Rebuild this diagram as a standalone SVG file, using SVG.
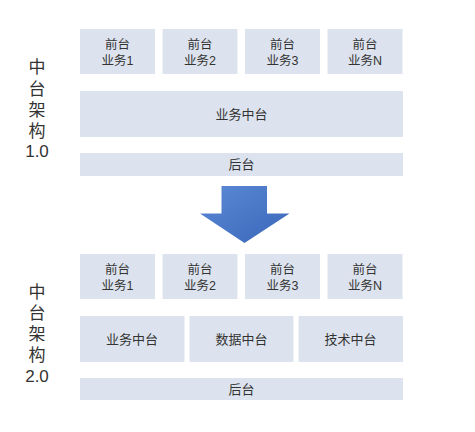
<svg xmlns="http://www.w3.org/2000/svg" width="475" height="432" viewBox="0 0 475 432">
<style>
.box{fill:#dde3ee;}
.t{font-family:"Liberation Sans","Noto Sans CJK SC",sans-serif;font-size:13px;fill:#333;text-anchor:middle;}
.s{font-size:12.5px;}
.side{font-family:"Liberation Sans","Noto Sans CJK SC",sans-serif;font-size:17px;fill:#333;text-anchor:middle;}
</style>
<defs>
<linearGradient id="ag" x1="0" y1="0" x2="1" y2="1">
<stop offset="0" stop-color="#5b8ad6"/>
<stop offset="1" stop-color="#3a66b8"/>
</linearGradient>
</defs>
<rect width="475" height="432" fill="#ffffff"/>

<g id="label-1">
<text class="side"><tspan x="37" y="73">中</tspan><tspan x="37" y="95">台</tspan><tspan x="37" y="116">架</tspan><tspan x="37" y="137">构</tspan><tspan x="37" y="157">1.0</tspan></text>
</g>

<g id="v1-front1"><rect class="box" x="80" y="29" width="75" height="45"/><text class="t s"><tspan x="117.5" y="49">前台</tspan><tspan x="117.5" y="65">业务1</tspan></text></g>
<g id="v1-front2"><rect class="box" x="162.5" y="29" width="75" height="45"/><text class="t s"><tspan x="200" y="49">前台</tspan><tspan x="200" y="65">业务2</tspan></text></g>
<g id="v1-front3"><rect class="box" x="245" y="29" width="75" height="45"/><text class="t s"><tspan x="282.5" y="49">前台</tspan><tspan x="282.5" y="65">业务3</tspan></text></g>
<g id="v1-frontN"><rect class="box" x="327.5" y="29" width="75" height="45"/><text class="t s"><tspan x="365" y="49">前台</tspan><tspan x="365" y="65">业务N</tspan></text></g>
<g id="v1-mid"><rect class="box" x="80" y="91" width="323" height="46"/><text class="t" x="241.5" y="118.5">业务中台</text></g>
<g id="v1-back"><rect class="box" x="80" y="153" width="323" height="23"/><text class="t" x="241.5" y="169">后台</text></g>

<g id="connectors">
<path d="M221.5 186 H267 V213.5 H289.5 L244.5 243 L200 213.5 H221.5 Z" fill="url(#ag)"/>
</g>

<g id="label-2">
<text class="side"><tspan x="37" y="298">中</tspan><tspan x="37" y="319">台</tspan><tspan x="37" y="340">架</tspan><tspan x="37" y="361">构</tspan><tspan x="37" y="382">2.0</tspan></text>
</g>

<g id="v2-front1"><rect class="box" x="80" y="254" width="75" height="45"/><text class="t s"><tspan x="117.5" y="274">前台</tspan><tspan x="117.5" y="290">业务1</tspan></text></g>
<g id="v2-front2"><rect class="box" x="162.5" y="254" width="75" height="45"/><text class="t s"><tspan x="200" y="274">前台</tspan><tspan x="200" y="290">业务2</tspan></text></g>
<g id="v2-front3"><rect class="box" x="245" y="254" width="75" height="45"/><text class="t s"><tspan x="282.5" y="274">前台</tspan><tspan x="282.5" y="290">业务3</tspan></text></g>
<g id="v2-frontN"><rect class="box" x="327.5" y="254" width="75" height="45"/><text class="t s"><tspan x="365" y="274">前台</tspan><tspan x="365" y="290">业务N</tspan></text></g>
<g id="v2-biz"><rect class="box" x="80" y="316" width="104.5" height="46"/><text class="t" x="132" y="343.5">业务中台</text></g>
<g id="v2-data"><rect class="box" x="189.5" y="316" width="104" height="46"/><text class="t" x="241.5" y="343.5">数据中台</text></g>
<g id="v2-tech"><rect class="box" x="298.5" y="316" width="104.5" height="46"/><text class="t" x="350.5" y="343.5">技术中台</text></g>
<g id="v2-back"><rect class="box" x="80" y="378" width="323" height="22"/><text class="t" x="241.5" y="393.5">后台</text></g>
</svg>
